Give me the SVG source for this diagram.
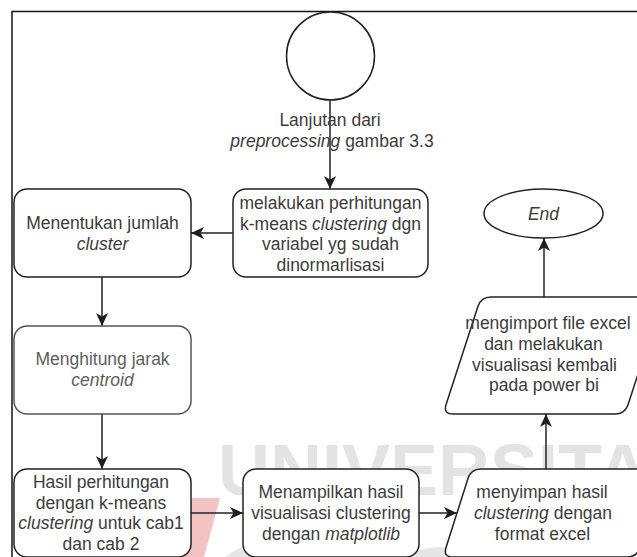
<svg xmlns="http://www.w3.org/2000/svg" width="637" height="557" viewBox="0 0 637 557">
  <defs>
    <marker id="arrow" markerUnits="userSpaceOnUse" markerWidth="13" markerHeight="12" refX="13" refY="6" orient="auto">
      <path d="M0,0 L13,6 L0,12 L3.5,6 Z" fill="#1e1e1e"/>
    </marker>
    <style>
      .shape { fill: #ffffff; stroke: #222222; stroke-width: 1.5; }
      .shape.soft { stroke: #555555; }
      .edge { fill: none; stroke: #222222; stroke-width: 1.5; marker-end: url(#arrow); }
      .label { font-family: "Liberation Sans", Arial, sans-serif; font-size: 17.5px; fill: #3c3c3c; text-anchor: middle; }
      .label.soft { fill: #5e5e5e; }
      .it { font-style: italic; }
      .wm { font-family: "Liberation Sans", Arial, sans-serif; font-weight: bold; font-size: 72px; fill: #e3e3e3; }
    </style>
  </defs>

  <rect width="637" height="557" fill="#ffffff"/>

  <!-- background watermark -->
  <g id="watermark">
    <polygon points="192,498 220,498 204,557 176,557" fill="#f3c2c2"/>
    <circle cx="268" cy="610" r="60" fill="none" stroke="#e6e6e6" stroke-width="16"/>
    <circle cx="440" cy="615" r="60" fill="none" stroke="#e6e6e6" stroke-width="16"/>
    <text class="wm" x="218" y="495">UNIVERSITAS</text>
  </g>

  <!-- outer frame -->
  <path d="M12,557 V11.5 H637" fill="none" stroke="#151515" stroke-width="1.5"/>

  <!-- connectors -->
  <g id="connectors">
    <path class="edge" d="M330,100 V189"/>
    <path class="edge" d="M233,233 H191"/>
    <path class="edge" d="M102,277 V326"/>
    <path class="edge" d="M102,414 V469"/>
    <path class="edge" d="M191,513 H243"/>
    <path class="edge" d="M419,513 H457"/>
    <path class="edge" d="M546,469 V414"/>
    <path class="edge" d="M544,297 V238"/>
  </g>

  <g id="start">
    <circle class="shape" cx="330.5" cy="56" r="44"/>
    <text class="label" x="330" y="126">Lanjutan dari</text>
    <text class="label" x="332" y="147"><tspan class="it">preprocessing</tspan> gambar 3.3</text>
  </g>

  <g id="hitung-kmeans">
    <rect class="shape" x="233" y="189" width="195" height="88" rx="13"/>
    <text class="label" x="330.5" y="209">melakukan perhitungan</text>
    <text class="label" x="330.5" y="229.5">k-means <tspan class="it">clustering</tspan> dgn</text>
    <text class="label" x="330.5" y="250">variabel yg sudah</text>
    <text class="label" x="330.5" y="271">dinormarlisasi</text>
  </g>

  <g id="jumlah-cluster">
    <rect class="shape" x="14" y="189" width="177" height="88" rx="13"/>
    <text class="label" x="102.5" y="229">Menentukan jumlah</text>
    <text class="label it" x="102.5" y="250">cluster</text>
  </g>

  <g id="jarak-centroid">
    <rect class="shape soft" x="14" y="326" width="177" height="88" rx="13"/>
    <text class="label soft" x="102.5" y="365">Menghitung jarak</text>
    <text class="label soft it" x="102.5" y="386">centroid</text>
  </g>

  <g id="hasil-perhitungan">
    <rect class="shape" x="14" y="469" width="177" height="88" rx="13"/>
    <text class="label" x="101" y="488">Hasil perhitungan</text>
    <text class="label" x="101" y="508.5">dengan k-means</text>
    <text class="label" x="101" y="529"><tspan class="it">clustering</tspan> untuk cab1</text>
    <text class="label" x="101" y="550">dan cab 2</text>
  </g>

  <g id="visualisasi">
    <rect class="shape" x="243" y="469" width="176" height="88" rx="13"/>
    <text class="label" x="331" y="498">Menampilkan hasil</text>
    <text class="label" x="331" y="519">visualisasi clustering</text>
    <text class="label" x="331" y="540">dengan <tspan class="it">matplotlib</tspan></text>
  </g>

  <g id="simpan-excel">
    <path class="shape" d="M481,469 L655,469 Q665,469 661.97,478.53 L640.03,547.47 Q637,557 627,557 L453,557 Q443,557 446.03,547.47 L467.97,478.53 Q471,469 481,469 Z"/>
    <text class="label" x="542" y="498">menyimpan hasil</text>
    <text class="label" x="543" y="519"><tspan class="it">clustering</tspan> dengan</text>
    <text class="label" x="542.5" y="540">format excel</text>
  </g>

  <g id="import-powerbi">
    <path class="shape" d="M491,297 L653,297 Q663,297 659.91,306.51 L628.09,404.49 Q625,414 615,414 L453,414 Q443,414 446.09,404.49 L477.91,306.51 Q481,297 491,297 Z"/>
    <text class="label" x="548" y="329">mengimport file excel</text>
    <text class="label" x="543.5" y="350">dan melakukan</text>
    <text class="label" x="544.5" y="371">visualisasi kembali</text>
    <text class="label" x="544" y="391">pada power bi</text>
  </g>

  <g id="end">
    <ellipse class="shape" cx="543.5" cy="213.5" rx="59.5" ry="24.5"/>
    <text class="label it" x="543.5" y="219.5">End</text>
  </g>
</svg>
